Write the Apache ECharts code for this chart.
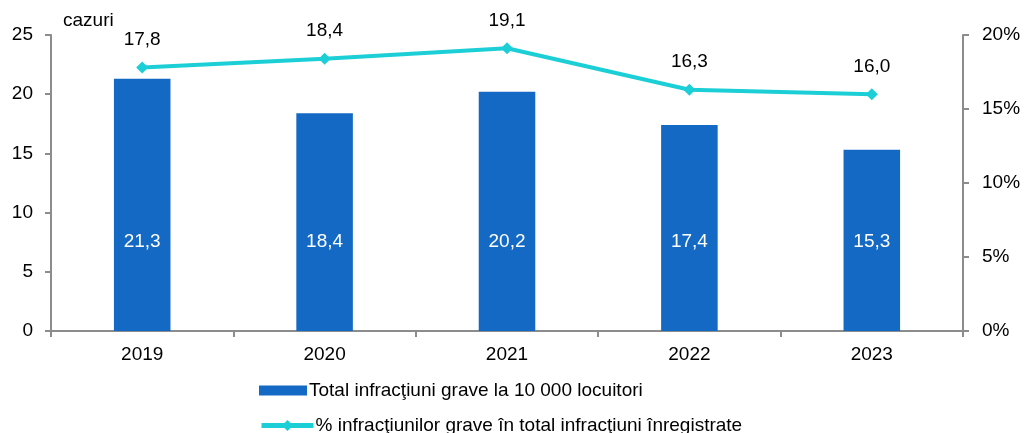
<!DOCTYPE html>
<html>
<head>
<meta charset="utf-8">
<script src="https://cdn.jsdelivr.net/npm/echarts@6/dist/echarts.min.js"></script>
<style>
  html, body { margin: 0; padding: 0; background: #fff; }
  #chart { width: 1028px; height: 433px; }
</style>
</head>
<body>
<div id="chart"></div>
<script>
const years = ["2019", "2020", "2021", "2022", "2023"];
const totalPer10k = [21.3, 18.4, 20.2, 17.4, 15.3];
const sharePercent = [17.8, 18.4, 19.1, 16.3, 16.0];

const barName = "Total infracţiuni grave la 10 000 locuitori";
const lineName = "% infracţiunilor grave în total infracţiuni înregistrate";

const axisGray = "#8c8c8c";
const barColor = "#1469c4";
const lineColor = "#1ccfd6";
const fs = 19;
const fmt = (v) => v.toFixed(1).replace(".", ",");

const legendText = { fontSize: fs, color: "#000", padding: [0, 0, 0, -3] };

const chart = echarts.init(document.getElementById("chart"));
chart.setOption({
  animation: false,
  textStyle: { fontFamily: "Liberation Sans, Arial, sans-serif" },
  grid: { left: 51, right: 65, top: 35, bottom: 102 },
  legend: [
    {
      left: 254,
      top: 376,
      itemWidth: 48,
      itemHeight: 10,
      textStyle: legendText,
      data: [{ name: barName, icon: "rect" }]
    },
    {
      left: 254,
      top: 411,
      itemWidth: 52,
      itemHeight: 14,
      lineStyle: { width: 5 },
      textStyle: legendText,
      data: [{ name: lineName }]
    }
  ],
  xAxis: {
    type: "category",
    data: years,
    axisLine: { lineStyle: { color: axisGray, width: 2 } },
    axisTick: { show: true, length: 6, lineStyle: { color: axisGray, width: 2 } },
    axisLabel: { fontSize: fs, color: "#000", margin: 14 }
  },
  yAxis: [
    {
      type: "value",
      min: 0, max: 25, interval: 5,
      name: "cazuri",
      nameLocation: "end",
      nameGap: 5,
      nameTextStyle: { fontSize: fs, color: "#000", align: "left", padding: [0, 0, 0, 12] },
      axisLine: { show: true, lineStyle: { color: axisGray, width: 2 } },
      axisTick: { show: true, length: 6, lineStyle: { color: axisGray, width: 2 } },
      axisLabel: { fontSize: fs, color: "#000", margin: 18 },
      splitLine: { show: false }
    },
    {
      type: "value",
      min: 0, max: 20, interval: 5,
      position: "right",
      axisLine: { show: true, lineStyle: { color: axisGray, width: 2 } },
      axisTick: { show: true, length: 6, lineStyle: { color: axisGray, width: 2 } },
      axisLabel: { fontSize: fs, color: "#000", margin: 19, formatter: "{value}%" },
      splitLine: { show: false }
    }
  ],
  series: [
    {
      name: barName,
      type: "bar",
      data: totalPer10k,
      barWidth: "31%",
      itemStyle: { color: barColor },
      label: {
        show: true,
        position: "insideBottom",
        distance: 80,
        color: "#fff",
        fontSize: fs,
        formatter: (p) => fmt(p.value)
      }
    },
    {
      name: lineName,
      type: "line",
      yAxisIndex: 1,
      data: sharePercent,
      symbol: "diamond",
      symbolSize: 12,
      lineStyle: { color: lineColor, width: 4 },
      itemStyle: { color: lineColor },
      label: {
        show: true,
        position: "top",
        distance: 12,
        color: "#000",
        fontSize: fs,
        formatter: (p) => fmt(p.value)
      }
    }
  ]
});
</script>
</body>
</html>
